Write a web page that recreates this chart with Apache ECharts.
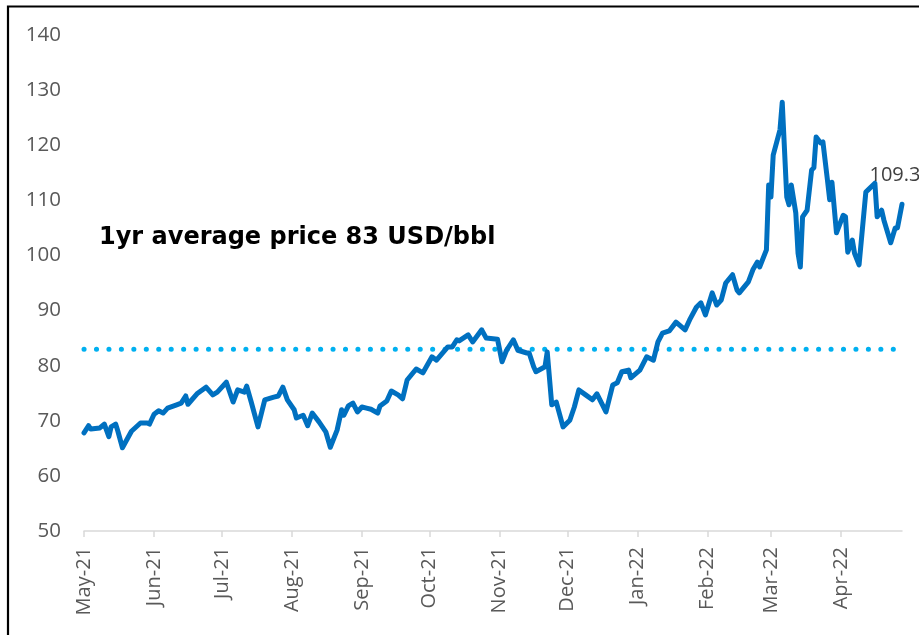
<!DOCTYPE html>
<html>
<head>
<meta charset="utf-8">
<script src="https://cdn.jsdelivr.net/npm/echarts@6/dist/echarts.min.js"></script>
<style>
  html, body { margin: 0; padding: 0; background: #fff; }
  #chart { width: 919px; height: 635px; }
</style>
</head>
<body>
<div id="chart"></div>
<script>
// Brent price, USD/bbl
const dates = [
  '2021-05-01','2021-05-03','2021-05-04','2021-05-08','2021-05-10','2021-05-12','2021-05-13','2021-05-15','2021-05-16','2021-05-18','2021-05-22','2021-05-26','2021-05-29','2021-05-30',
  '2021-06-01','2021-06-03','2021-06-05','2021-06-07','2021-06-11','2021-06-13','2021-06-15','2021-06-16','2021-06-20','2021-06-24','2021-06-27','2021-06-29',
  '2021-07-03','2021-07-06','2021-07-08','2021-07-11','2021-07-12','2021-07-14','2021-07-17','2021-07-20','2021-07-24','2021-07-26','2021-07-28','2021-07-30',
  '2021-08-02','2021-08-03','2021-08-06','2021-08-08','2021-08-10','2021-08-13','2021-08-16','2021-08-18','2021-08-21','2021-08-23','2021-08-24','2021-08-26','2021-08-28','2021-08-30',
  '2021-09-01','2021-09-03','2021-09-05','2021-09-08','2021-09-09','2021-09-12','2021-09-14','2021-09-17','2021-09-19','2021-09-21','2021-09-25','2021-09-28',
  '2021-10-02','2021-10-04','2021-10-09','2021-10-11','2021-10-13','2021-10-14','2021-10-18','2021-10-20','2021-10-24','2021-10-26','2021-10-31',
  '2021-11-02','2021-11-04','2021-11-07','2021-11-09','2021-11-13','2021-11-14','2021-11-16','2021-11-17','2021-11-21','2021-11-22','2021-11-24','2021-11-26','2021-11-29',
  '2021-12-02','2021-12-04','2021-12-06','2021-12-09','2021-12-12','2021-12-14','2021-12-18','2021-12-21','2021-12-23','2021-12-25','2021-12-28','2021-12-29',
  '2022-01-02','2022-01-05','2022-01-08','2022-01-10','2022-01-12','2022-01-15','2022-01-18','2022-01-22','2022-01-24','2022-01-27','2022-01-29','2022-01-31',
  '2022-02-03','2022-02-05','2022-02-07','2022-02-09','2022-02-12','2022-02-14','2022-02-15','2022-02-19','2022-02-21','2022-02-23','2022-02-24','2022-02-27','2022-02-28',
  '2022-03-01','2022-03-02','2022-03-05','2022-03-06','2022-03-08','2022-03-09','2022-03-10','2022-03-12','2022-03-13','2022-03-14','2022-03-15','2022-03-17','2022-03-19','2022-03-20','2022-03-21','2022-03-23','2022-03-24','2022-03-26','2022-03-27','2022-03-28','2022-03-30',
  '2022-04-02','2022-04-03','2022-04-04','2022-04-06','2022-04-07','2022-04-09','2022-04-12','2022-04-13','2022-04-16','2022-04-17','2022-04-19','2022-04-20','2022-04-23','2022-04-25','2022-04-26','2022-04-28'
];
const prices = [
  67.8, 69.1, 68.5, 68.7, 69.4, 67.1, 68.9, 69.4, 68.1, 65.1, 68.1, 69.6, 69.6, 69.4,
  71.2, 71.8, 71.4, 72.3, 72.9, 73.2, 74.5, 73.0, 74.9, 76.1, 74.7, 75.2,
  77.0, 73.4, 75.6, 75.2, 76.3, 73.4, 68.9, 73.8, 74.3, 74.5, 76.1, 73.8,
  72.0, 70.5, 71.0, 69.1, 71.4, 69.8, 68.0, 65.2, 68.3, 72.0, 71.0, 72.7, 73.2, 71.6,
  72.5, 72.3, 72.1, 71.4, 72.7, 73.6, 75.4, 74.7, 74.0, 77.4, 79.4, 78.7,
  81.6, 81.0, 83.4, 83.4, 84.7, 84.5, 85.6, 84.3, 86.5, 85.0, 84.8,
  80.7, 82.8, 84.7, 82.8, 82.3, 82.3, 79.8, 78.9, 79.8, 82.5, 72.9, 73.4, 68.9,
  70.1, 72.5, 75.6, 74.7, 73.8, 74.9, 71.6, 76.5, 76.9, 78.9, 79.2, 77.8,
  79.2, 81.6, 81.0, 84.3, 85.9, 86.3, 87.9, 86.5, 88.3, 90.6, 91.4, 89.2,
  93.2, 91.0, 91.9, 95.0, 96.5, 93.7, 93.2, 95.2, 97.4, 98.8, 97.9, 101.0, 112.8,
  110.6, 118.2, 122.8, 127.8, 110.6, 109.2, 112.8, 107.7, 100.4, 97.9, 107.0, 108.2, 115.5, 115.9, 121.5, 120.4, 120.6, 113.7, 110.1, 113.3, 104.1,
  107.3, 107.0, 100.6, 102.8, 100.4, 98.3, 111.5, 111.9, 113.1, 107.0, 108.2, 106.4, 102.3, 105.0, 105.0, 109.3
];
const avgPrice = 83;
const avgText = '1yr average price 83 USD/bbl';

const tickDates = ['2021-05-01','2021-06-01','2021-07-01','2021-08-01','2021-09-01','2021-10-01',
  '2021-11-01','2021-12-01','2022-01-01','2022-02-01','2022-03-01','2022-04-01'];
const tickLabels = ['May-21','Jun-21','Jul-21','Aug-21','Sep-21','Oct-21',
  'Nov-21','Dec-21','Jan-22','Feb-22','Mar-22','Apr-22'];

function toTime(s) {
  const p = s.split('-');
  return new Date(+p[0], +p[1] - 1, +p[2]).getTime();
}

const tickValues = tickDates.map(toTime);
const xMin = toTime(dates[0]);
const xMax = toTime(dates[dates.length - 1]);
const lastPrice = prices[prices.length - 1];
const DAY = 86400000;

const chart = echarts.init(document.getElementById('chart'));
chart.setOption({
  animation: false,
  grid: { left: 84, right: 17, top: 35, bottom: 104 },
  xAxis: {
    type: 'time',
    min: xMin,
    max: xMax,
    splitNumber: 12,
    minInterval: 28 * DAY,
    maxInterval: 31 * DAY,
    axisLine: { lineStyle: { color: '#D9D9D9', width: 1.5 } },
    axisTick: { length: 6, lineStyle: { color: '#D9D9D9', width: 1.5 } },
    axisLabel: {
      rotate: 90,
      margin: 16,
      color: '#595959',
      fontSize: 20,
      fontFamily: 'Open Sans',
      hideOverlap: false,
      formatter: v => {
        const i = tickValues.indexOf(v);
        return i >= 0 ? tickLabels[i] : '';
      }
    },
    splitLine: { show: false }
  },
  yAxis: {
    type: 'value',
    min: 50,
    max: 140,
    interval: 10,
    axisLine: { show: false },
    axisTick: { show: false },
    splitLine: { show: false },
    axisLabel: { color: '#595959', fontSize: 20.5, fontFamily: 'Open Sans', margin: 23 }
  },
  series: [
    {
      name: 'avg',
      type: 'line',
      data: [[xMin, avgPrice], [xMax, avgPrice]],
      symbol: 'none',
      lineStyle: { color: '#00B0F0', width: 5, type: [0.1, 12.35], cap: 'round' },
      z: 2
    },
    {
      name: 'Brent',
      type: 'line',
      data: dates.map((d, i) => [toTime(d), prices[i]]),
      symbol: 'none',
      lineStyle: { color: '#0070C0', width: 5, cap: 'round', join: 'round' },
      z: 3,
      markPoint: {
        symbol: 'circle',
        symbolSize: 1,
        itemStyle: { color: 'rgba(0,0,0,0)' },
        label: {
          show: true,
          position: 'top',
          distance: 18,
          offset: [-7, 0],
          formatter: p => p.value.toFixed(1),
          color: '#404040',
          fontSize: 20,
          fontFamily: 'Open Sans'
        },
        data: [{ coord: [xMax, lastPrice], value: lastPrice }]
      }
    }
  ],
  graphic: [
    {
      type: 'rect',
      shape: { x: 8, y: 6.5, width: 1200, height: 1200 },
      style: { fill: 'none', stroke: '#000', lineWidth: 2.2 },
      silent: true
    },
    {
      type: 'text',
      left: 99,
      top: 226,
      style: {
        text: avgText,
        fill: '#000',
        fontSize: 24,
        fontWeight: 'bold',
        fontFamily: 'DejaVu Sans'
      }
    }
  ]
});
</script>
</body>
</html>
